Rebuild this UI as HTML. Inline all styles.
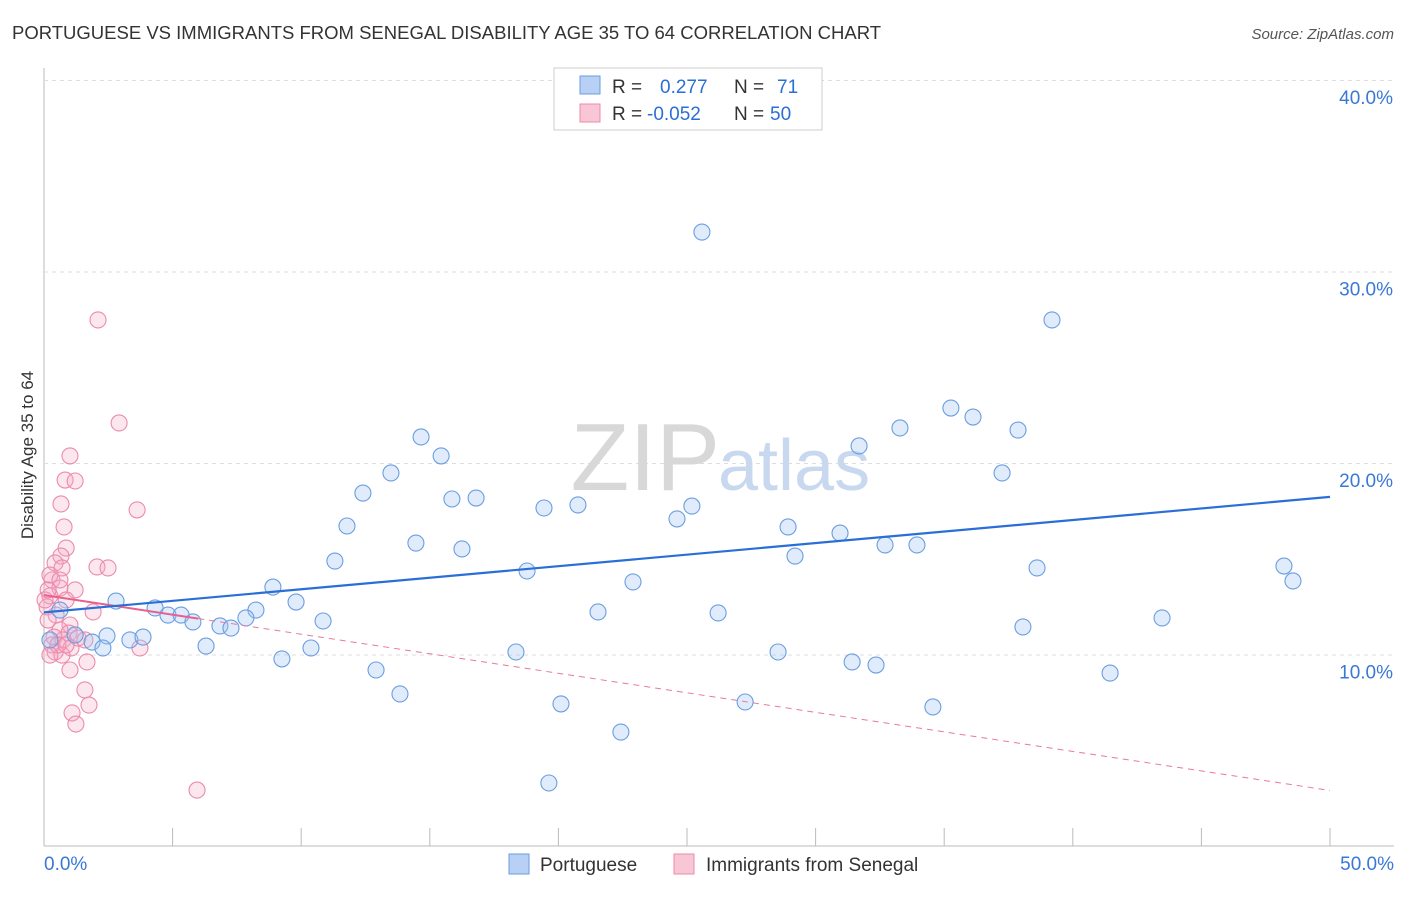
<!DOCTYPE html>
<html><head><meta charset="utf-8"><style>
body{margin:0;background:#fff;font-family:"Liberation Sans",sans-serif;}
svg text{font-family:"Liberation Sans",sans-serif;}
</style></head><body>
<svg id="chart" width="1406" height="892">
<text x="12" y="39" font-size="18.5" fill="#333">PORTUGUESE VS IMMIGRANTS FROM SENEGAL DISABILITY AGE 35 TO 64 CORRELATION CHART</text>
<text x="1394" y="39" font-size="15" fill="#555" text-anchor="end" font-style="italic">Source: ZipAtlas.com</text>
<text x="33" y="455" font-size="17" fill="#333" text-anchor="middle" transform="rotate(-90 33 455)">Disability Age 35 to 64</text>
<g id="grid"></g>
<text x="720" y="490" font-size="96" fill="#d8d8d8" text-anchor="end" font-family="Liberation Serif">ZIP</text>
<text x="718" y="490" font-size="72" fill="#c8d8ee">atlas</text>
<g id="marks"></g>
<g>
<rect x="554" y="68" width="268" height="62" fill="#fff" stroke="#ccc"/>
<rect x="580" y="76" width="20" height="18" fill="#b8d0f4" stroke="#6a9ee0"/>
<rect x="580" y="104" width="20" height="18" fill="#f9c6d6" stroke="#ec8aaa"/>
<text x="612" y="93" font-size="19" fill="#333">R = <tspan fill="#2a6fd6" x="660">0.277</tspan><tspan x="734" fill="#333">N = </tspan><tspan fill="#2a6fd6" x="777">71</tspan></text>
<text x="612" y="120" font-size="19" fill="#333">R = <tspan fill="#2a6fd6" x="647">-0.052</tspan><tspan x="734" fill="#333">N = </tspan><tspan fill="#2a6fd6" x="770">50</tspan></text>
</g>
<g>
<rect x="509" y="854" width="20" height="20" fill="#b8d0f4" stroke="#6a9ee0"/>
<text x="540" y="871" font-size="19" fill="#333">Portuguese</text>
<rect x="674" y="854" width="20" height="20" fill="#f9c6d6" stroke="#ec8aaa"/>
<text x="706" y="871" font-size="19" fill="#333">Immigrants from Senegal</text>
</g>
</svg>
<script>
const xTicks=[0,5,10,15,20,25,30,35,40,45,50];
const yTicks=[10,20,30,40];
const blueX=[25.58,39.19,35.26,36.12,33.28,37.87,14.66,31.69,15.44,37.25,13.49,12.40,15.86,16.80,20.76,19.44,25.19,24.61,11.78,28.93,30.95,14.46,16.25,32.70,33.94,29.20,11.31,18.78,38.61,48.21,48.56,22.90,8.90,2.80,9.80,4.32,8.24,21.54,26.21,4.82,5.33,5.79,7.85,10.85,6.84,7.27,43.47,38.06,2.45,3.34,3.85,1.87,2.29,6.30,10.38,9.25,18.35,28.54,31.42,32.35,12.91,41.45,13.84,20.10,27.26,34.56,22.43,19.63,0.62,1.21,0.23];
const blueY=[32.06,27.47,22.87,22.40,21.83,21.72,21.36,20.89,20.37,19.48,19.48,18.43,18.12,18.17,17.81,17.65,17.75,17.08,16.71,16.66,16.34,15.82,15.51,15.72,15.72,15.14,14.88,14.36,14.52,14.62,13.84,13.79,13.52,12.79,12.74,12.43,12.32,12.22,12.17,12.06,12.06,11.70,11.91,11.75,11.49,11.38,11.91,11.44,10.97,10.76,10.91,10.65,10.34,10.44,10.34,9.77,10.13,10.13,9.61,9.45,9.19,9.03,7.94,7.42,7.52,7.26,5.95,3.29,12.32,11.02,10.76];
const pinkX=[2.10,2.92,1.01,0.82,1.21,0.66,3.62,0.78,0.86,0.66,0.43,0.70,2.06,2.49,0.31,0.62,1.21,0.23,0.86,0.12,1.91,0.47,0.16,1.01,0.62,0.97,0.39,0.74,1.32,0.31,1.05,0.43,0.70,3.73,1.67,1.01,1.59,1.75,1.09,1.24,5.95,0.23,0.04,0.54,0.86,0.23,1.59,0.16,0.62];
const pinkY=[27.47,22.09,20.37,19.11,19.06,17.86,17.55,16.66,15.56,15.14,14.78,14.52,14.57,14.52,13.89,13.47,13.37,13.06,12.85,12.48,12.22,12.06,11.80,11.54,11.28,11.12,10.91,10.76,10.86,10.50,10.34,10.13,9.97,10.34,9.61,9.19,8.15,7.36,6.95,6.37,2.92,14.15,12.85,10.50,10.50,9.97,10.76,13.37,13.89];
const blueTrend=[12.2,18.23];
const pinkTrend=[13.1,2.9];
const pinkSolidEnd=6;
const X=v=>44+v/50*1286, Y=v=>846-v*19.15;
const NS="http://www.w3.org/2000/svg";
const grid=document.getElementById('grid'), marks=document.getElementById('marks');
function mk(tag,attrs,parent){const e=document.createElementNS(NS,tag);for(const k in attrs)e.setAttribute(k,attrs[k]);parent.appendChild(e);return e;}
let ax=mk('line',{x1:44,y1:68,x2:44,y2:846,stroke:'#bbb'},grid);


let bx=mk('line',{x1:44,y1:846,x2:1394,y2:846,stroke:'#bbb'},grid);


yTicks.forEach(t=>{
 const l=mk('line',{x1:44,x2:1394,y1:Y(t)+0.5,y2:Y(t)+0.5,stroke:'#ddd','stroke-dasharray':'4,4'},grid);
 
 
 const tx=mk('text',{x:1393,y:Y(t)+24,'font-size':19,fill:'#3a78d6','text-anchor':'end'},grid);tx.textContent=t.toFixed(1)+'%';
 
 
});
xTicks.forEach(t=>{
 const l=mk('line',{x1:X(t),x2:X(t),y1:828,y2:846,stroke:'#bbb'},grid);
 
 
});
[[0,'start',44],[50,'end',1394]].forEach(([t,a,x])=>{
 const tx=mk('text',{x:x,y:870,'font-size':19,fill:'#3a78d6','text-anchor':a},grid);tx.textContent=t.toFixed(1)+'%';
 
 
});
pinkX.forEach((v,i)=>{const c=mk('circle',{cx:X(v),cy:Y(pinkY[i]),r:8,fill:'rgba(244,170,196,0.28)',stroke:'#ec8aaa','stroke-width':1.1},marks);
 
 });
blueX.forEach((v,i)=>{const c=mk('circle',{cx:X(v),cy:Y(blueY[i]),r:8,fill:'rgba(160,195,242,0.32)',stroke:'#6a9ee0','stroke-width':1.1},marks);
 
 });
const pAt=x=>pinkTrend[0]+(pinkTrend[1]-pinkTrend[0])*x/50;
let pd=mk('line',{x1:X(pinkSolidEnd),y1:Y(pAt(pinkSolidEnd)),x2:X(50),y2:Y(pinkTrend[1]),stroke:'#e8799e','stroke-width':1,'stroke-dasharray':'6,5'},marks);


let ps=mk('line',{x1:X(0),y1:Y(pinkTrend[0]),x2:X(pinkSolidEnd),y2:Y(pAt(pinkSolidEnd)),stroke:'#e8608e','stroke-width':2},marks);


let bl=mk('line',{x1:X(0),y1:Y(blueTrend[0]),x2:X(50),y2:Y(blueTrend[1]),stroke:'#2a6fd6','stroke-width':2.2},marks);


</script>
</body></html>
